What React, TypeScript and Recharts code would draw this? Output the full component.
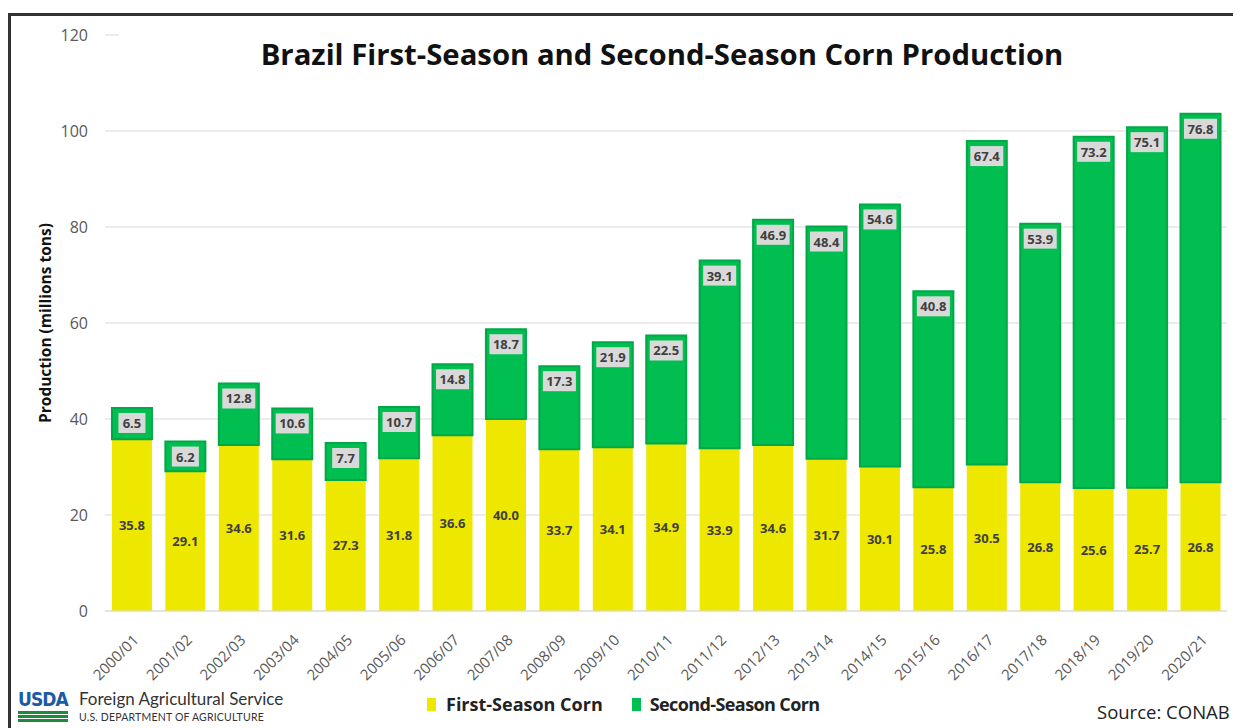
import { BarChart, Bar, XAxis, YAxis, CartesianGrid, LabelList } from 'recharts'

const seasons = [
  '2000/01', '2001/02', '2002/03', '2003/04', '2004/05', '2005/06', '2006/07',
  '2007/08', '2008/09', '2009/10', '2010/11', '2011/12', '2012/13', '2013/14',
  '2014/15', '2015/16', '2016/17', '2017/18', '2018/19', '2019/20', '2020/21',
]
const firstSeason = [
  35.8, 29.1, 34.6, 31.6, 27.3, 31.8, 36.6, 40.0, 33.7, 34.1, 34.9,
  33.9, 34.6, 31.7, 30.1, 25.8, 30.5, 26.8, 25.6, 25.7, 26.8,
]
const secondSeason = [
  6.5, 6.2, 12.8, 10.6, 7.7, 10.7, 14.8, 18.7, 17.3, 21.9, 22.5,
  39.1, 46.9, 48.4, 54.6, 40.8, 67.4, 53.9, 73.2, 75.1, 76.8,
]
const yTicks = [0, 20, 40, 60, 80, 100, 120]

const data = seasons.map((s, i) => ({
  season: s,
  first: firstSeason[i],
  second: secondSeason[i],
}))

const FONT = '"Open Sans", Lato, sans-serif'
const LATO = 'Lato, "Open Sans", sans-serif'
const YELLOW = '#EEE700'
const GREEN = '#00BF50'
const GREEN_EDGE = '#00A847'

const XTick = ({ x, y, payload }: any) => {
  const tx = x + 8
  const ty = y + 22
  return (
    <text
      x={tx}
      y={ty}
      transform={`rotate(-45 ${tx} ${ty})`}
      textAnchor="end"
      fontSize={15}
      fill="#595959"
      fontFamily={FONT}
    >
      {payload.value}
    </text>
  )
}

const SecondLabel = (props: any) => {
  const { x, y, width, value } = props
  const txt = Number(value).toFixed(1)
  const w = txt.length > 3 ? 33 : 27
  const cx = x + width / 2
  return (
    <g>
      <rect x={cx - w / 2} y={y + 5} width={w} height={20} fill="#D9D9D9" />
      <text
        x={cx}
        y={y + 20}
        textAnchor="middle"
        fontSize={13}
        fontWeight={700}
        fill="#404040"
        fontFamily={FONT}
      >
        {txt}
      </text>
    </g>
  )
}

const FirstLabel = (props: any) => {
  const { x, y, width, height, value } = props
  return (
    <text
      x={x + width / 2}
      y={y + height / 2 + 5}
      textAnchor="middle"
      fontSize={13}
      fontWeight={700}
      fill="#404040"
      fontFamily={FONT}
    >
      {Number(value).toFixed(1)}
    </text>
  )
}

export default function App() {
  return (
    <div
      style={{
        position: 'relative',
        width: 1233,
        height: 720,
        overflow: 'hidden',
        fontFamily: FONT,
        background: '#fff',
      }}
    >
      <div
        style={{
          position: 'absolute',
          left: 0,
          top: 5,
          width: 1300,
          height: 800,
          borderTop: '3px solid #333',
          borderLeft: '3px solid #333',
        }}
      />
      <BarChart
        width={1233}
        height={720}
        data={data}
        margin={{ top: 27, right: 14, bottom: 0, left: 0 }}
        barCategoryGap="13%"
        style={{ position: 'absolute', left: 0, top: 0 }}
      >
        <CartesianGrid vertical={false} stroke="#D9D9D9" />
        <XAxis
          dataKey="season"
          tick={<XTick />}
          tickLine={false}
          axisLine={{ stroke: '#D9D9D9' }}
          interval={0}
          height={117}
        />
        <YAxis
          width={97}
          domain={[0, 120]}
          ticks={yTicks}
          tickLine={false}
          axisLine={false}
          tickSize={8}
          tickMargin={9}
          tick={{ fontSize: 16, fill: '#595959', fontFamily: FONT }}
        />
        <Bar dataKey="first" stackId="a" fill={YELLOW} isAnimationActive={false}>
          <LabelList dataKey="first" content={<FirstLabel />} />
        </Bar>
        <Bar
          dataKey="second"
          stackId="a"
          fill={GREEN}
          stroke={GREEN_EDGE}
          strokeWidth={2}
          isAnimationActive={false}
        >
          <LabelList dataKey="second" content={<SecondLabel />} />
        </Bar>
      </BarChart>

      {/* title sits on a white box that hides the top gridline */}
      <div
        style={{
          position: 'absolute',
          left: 111,
          top: 20,
          width: 1130,
          height: 62,
          background: '#fff',
        }}
      />
      <div
        style={{
          position: 'absolute',
          left: 0,
          width: 1308,
          top: 26,
          textAlign: 'center',
          fontSize: 29.3,
          fontWeight: 700,
          color: '#111',
          whiteSpace: 'nowrap',
        }}
      >
        Brazil First-Season and Second-Season Corn Production
      </div>

      <div
        style={{
          position: 'absolute',
          left: 37,
          top: 315,
          transform: 'translate(-50%, -50%) rotate(-90deg)',
          fontSize: 15.5,
          fontWeight: 700,
          color: '#111',
          whiteSpace: 'nowrap',
        }}
      >
        Production (millions tons)
      </div>

      {/* legend */}
      <div
        style={{
          position: 'absolute',
          left: 419,
          top: 684,
          display: 'flex',
          alignItems: 'center',
          fontSize: 18,
          fontWeight: 700,
          color: '#222',
          whiteSpace: 'nowrap',
        }}
      >
        <span style={{ width: 9, height: 13, background: YELLOW, marginRight: 10 }} />
        <span style={{ marginRight: 29 }}>First-Season Corn</span>
        <span style={{ width: 9, height: 13, background: GREEN, marginRight: 9 }} />
        <span style={{ letterSpacing: -0.6 }}>Second-Season Corn</span>
      </div>

      <div
        style={{
          position: 'absolute',
          left: 1089,
          top: 691,
          fontSize: 18.5,
          color: '#222',
          whiteSpace: 'nowrap',
        }}
      >
        Source: CONAB
      </div>

      {/* USDA mark */}
      <div style={{ position: 'absolute', left: 10, top: 682 }}>
        <div
          style={{
            fontSize: 19,
            fontWeight: 700,
            color: '#1B5BA6',
            letterSpacing: -1,
            lineHeight: '19px',
            fontFamily: '"Liberation Sans Narrow", "DejaVu Sans Condensed", sans-serif',
          }}
        >
          USDA
        </div>
        <div style={{ width: 50, height: 3, background: '#1E8A3C', marginTop: 2 }} />
        <div style={{ width: 50, height: 3, background: '#1E8A3C', marginTop: 1 }} />
        <div style={{ width: 50, height: 3, background: '#1E8A3C', marginTop: 1 }} />
      </div>
      <div
        style={{
          position: 'absolute',
          left: 71,
          top: 680,
          fontSize: 17,
          color: '#333',
          whiteSpace: 'nowrap',
          lineHeight: '22px',
          fontFamily: LATO,
        }}
      >
        Foreign Agricultural Service
      </div>
      <div
        style={{
          position: 'absolute',
          left: 71,
          top: 703,
          fontSize: 10.5,
          color: '#333',
          whiteSpace: 'nowrap',
          letterSpacing: 0.2,
          fontFamily: LATO,
        }}
      >
        U.S. DEPARTMENT OF AGRICULTURE
      </div>
    </div>
  )
}
